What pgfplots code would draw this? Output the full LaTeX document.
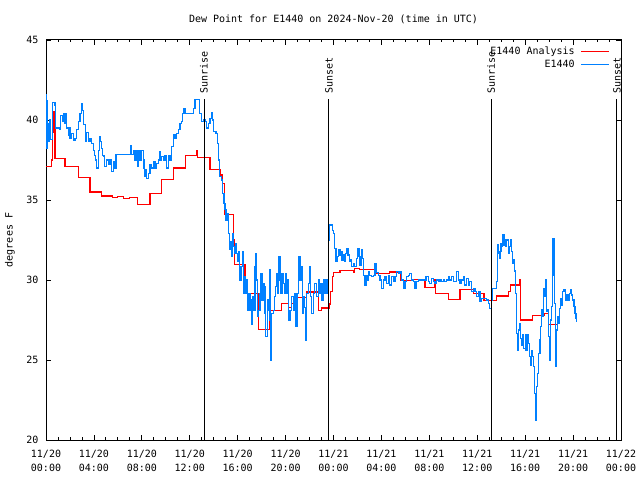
\documentclass[border=0pt]{standalone}
\usepackage{fontspec}
\setmainfont{DejaVu Sans Mono}
\usepackage{pgfplots}
\pgfplotsset{compat=1.18}
\definecolor{obsblue}{RGB}{0,128,255}
\definecolor{anared}{RGB}{255,0,0}
\newcommand{\gfont}{\fontsize{10bp}{14bp}\selectfont}
\begin{document}
\gfont
\begin{tikzpicture}
\fill[white] (0,0) rectangle (640bp,480bp);
\path[use as bounding box] (0,0) rectangle (640bp,480bp);
\begin{axis}[
  at={(46bp,40bp)}, anchor=south west,
  scale only axis, width=575bp, height=400bp,
  xmin=0, xmax=48, ymin=20, ymax=45,
  xtick={0,4,...,48},
  xticklabels={{11/20\\00:00},{11/20\\04:00},{11/20\\08:00},{11/20\\12:00},{11/20\\16:00},{11/20\\20:00},{11/21\\00:00},{11/21\\04:00},{11/21\\08:00},{11/21\\12:00},{11/21\\16:00},{11/21\\20:00},{11/22\\00:00}},
  minor x tick num=3,
  ytick={20,25,...,45},
  major tick length=5bp, minor tick length=2.5bp,
  tick style={black, line width=0.8bp},
  axis line style={line width=1bp},
  xticklabel style={align=center, font=\gfont, yshift=-7bp},
  yticklabel style={font=\gfont, xshift=-4bp},
  /pgf/number format/assume math mode=true,
  title={Dew Point for E1440 on 2024-Nov-20 (time in UTC)},
  title style={at={(0.5,1)}, anchor=center, yshift=15bp, font=\gfont},
  ylabel={degrees F},
  ylabel style={at={(axis description cs:0,0.5)}, anchor=center, yshift=36bp, font=\gfont},
  legend plot pos=right,
  legend cell align=right,
  legend image code/.code={\draw[#1] (0bp,0bp) -- (28bp,0bp);},
  legend style={draw=none, fill=none, at={(1,1)}, anchor=north east, xshift=-11bp, yshift=-5bp, font=\gfont, row sep=0bp, inner sep=0pt,
    /tikz/every odd column/.append style={column sep=4bp}},
]
\addplot[const plot, draw=anared, color=anared, line width=1.1bp] coordinates {
(0,37.1)(0.47,37.5)(0.53,39.2)(0.61,40.5)(0.75,37.6)(1.59,37.1)(2.70,36.4)(3.67,35.5)(4.65,35.25)(5.56,35.15)(6.0,35.2)(6.5,35.12)(7.0,35.17)(7.62,34.7)(8.68,35.4)(9.65,36.3)(10.63,37.0)(11.66,37.8)(12.58,38.06)(12.65,37.67)(13.69,36.92)(14.58,36.56)(14.70,36.04)(14.90,34.1)(15.64,32.5)(15.72,30.95)(16.61,29.17)(17.72,26.9)(18.70,28.1)(19.67,28.55)(20.28,28.3)(20.5,28.55)(20.64,28.9)(21.76,29.25)(22.73,28.1)(23.0,28.25)(23.65,28.5)(23.75,29.3)(23.9,30.2)(23.98,30.46)(24.54,30.58)(25.65,30.46)(25.79,30.73)(26.2,30.67)(27.46,30.4)(28.71,30.5)(29.63,29.96)(30.66,30.04)(31.64,29.54)(32.40,30.0)(32.50,29.17)(33.58,28.8)(34.56,29.4)(35.67,29.17)(36.56,28.7)(37.62,29.0)(38.59,29.3)(38.75,29.69)(39.51,30.0)(39.62,27.5)(40.62,27.77)(41.60,27.9)(41.93,27.23)(42.63,27.23)};
\addlegendentry{E1440 Analysis}
\addplot[const plot, draw=obsblue, color=obsblue, line width=1.1bp] coordinates {
(0,41.6)(0.05,38.2)(0.09,41.2)(0.13,39.8)(0.19,38.65)(0.30,40.0)(0.40,38.8)(0.53,41.08)(0.75,40.9)(0.83,39.5)(1.11,39.4)(1.22,40.3)(1.34,39.9)(1.45,40.4)(1.59,39.8)(1.67,40.4)(1.73,39.5)(1.86,39.06)(1.95,39.5)(2.00,38.85)(2.14,39.17)(2.28,38.75)(2.42,38.85)(2.56,39.4)(2.70,39.9)(2.84,40.4)(2.98,41.04)(3.06,40.6)(3.14,39.7)(3.26,38.65)(3.39,39.2)(3.53,38.65)(3.67,38.85)(3.81,38.54)(3.95,38.1)(4.03,37.8)(4.12,37.5)(4.23,37.0)(4.37,38.1)(4.45,38.96)(4.56,38.65)(4.65,38.2)(4.73,37.8)(4.84,37.7)(4.92,37.08)(5.06,37.5)(5.20,37.2)(5.34,37.5)(5.48,36.77)(5.62,37.4)(5.76,37.0)(5.84,37.87)(7.07,38.38)(7.15,37.87)(7.29,38.08)(7.43,37.5)(7.57,38.08)(7.65,37.08)(7.74,38.08)(7.85,37.5)(7.99,38.08)(8.12,37.5)(8.18,37.0)(8.26,36.46)(8.35,36.9)(8.40,36.35)(8.54,36.67)(8.68,37.2)(8.82,37.0)(8.96,37.4)(9.10,37.0)(9.24,37.3)(9.38,37.5)(9.46,38.0)(9.57,37.5)(9.66,37.7)(9.79,37.5)(9.93,37.8)(10.07,37.0)(10.21,37.8)(10.35,37.5)(10.49,38.33)(10.63,39.06)(10.77,38.85)(10.91,39.17)(11.05,39.4)(11.19,39.8)(11.32,39.9)(11.41,40.4)(11.52,40.7)(11.60,40.4)
(12.30,40.7)(12.44,41.3)(12.85,40.4)(12.99,39.9)(13.13,40.0)(13.27,39.9)(13.41,39.5)(13.55,39.8)(13.69,40.1)(13.83,40.46)(13.91,40.0)(14.02,39.27)(14.19,39.17)(14.30,38.54)(14.39,37.5)(14.47,36.67)(14.52,36.46)(14.66,36.25)(14.75,35.42)(14.86,34.8)(14.94,34.4)(15.03,33.75)(15.14,34.17)(15.22,32.9)(15.30,32.3)(15.36,31.9)(15.44,32.4)(15.50,31.46)(15.58,32.9)(15.64,32.08)(15.78,31.67)(15.86,32.3)(15.92,31.67)(16.00,31.15)(16.11,31.77)(16.19,30.0)(16.28,30.83)(16.39,31.77)(16.47,29.17)(16.56,30.2)(16.64,29.17)(16.75,30.0)(16.83,28.1)(16.94,29.17)(17.03,28.1)(17.11,28.75)(17.17,27.2)(17.25,28.96)(17.36,28.1)(17.45,30.83)(17.53,31.67)(17.58,30.0)(17.67,27.7)(17.75,28.1)(17.86,29.17)(17.95,30.4)(18.03,28.75)(18.14,29.8)(18.22,27.9)(18.31,29.6)(18.36,26.46)(18.47,28.75)(18.56,28.1)(18.64,30.625)(18.70,27.5)(18.78,25.0)(18.86,27.9)(18.98,28.1)(19.06,28.96)(19.14,29.6)(19.25,30.4)(19.34,29.17)(19.42,31.46)(19.53,30.0)(19.62,29.17)(19.70,30.4)(19.81,29.8)(19.92,29.17)(20.01,30.4)(20.09,29.17)(20.17,30.0)(20.28,27.5)(20.37,28.1)(20.51,28.96)(20.65,28.1)(20.76,29.17)(20.87,27.08)(20.98,29.17)(21.09,31.46)(21.20,30.0)(21.29,30.83)(21.40,27.9)(21.48,28.96)(21.56,28.3)(21.67,26.25)(21.76,29.17)(21.90,29.8)(21.98,30.83)(22.09,28.96)(22.20,27.9)(22.31,29.17)(22.45,29.8)(22.59,28.96)(22.73,30.0)(22.82,29.17)(22.93,29.8)(23.04,28.75)(23.15,30.0)(23.29,29.17)(23.43,30.0)(23.54,29.17)(23.59,32.5)
(23.65,33.44)(23.93,33.1)(23.98,32.9)(24.12,31.98)(24.21,31.15)(24.32,31.46)(24.43,31.875)(24.54,31.56)(24.62,31.77)(24.71,31.25)(24.82,31.56)(24.90,31.15)(24.98,31.67)(25.10,31.98)(25.21,31.56)(25.32,31.15)(25.43,31.25)(25.51,30.83)(25.65,31.04)(25.79,30.83)(25.93,31.35)(26.01,31.98)(26.13,31.46)(26.21,30.94)(26.35,31.875)(26.43,31.35)(26.54,30.3)(26.63,29.69)(26.71,30.3)(26.82,30.0)(26.93,30.52)(27.04,30.3)(27.18,30.2)(27.32,30.3)(27.46,31.04)(27.60,30.46)(27.74,30.3)(27.88,30.0)(28.02,29.48)(28.16,30.0)(28.30,30.2)(28.43,29.8)(28.57,30.3)(28.71,29.69)(28.85,30.2)(28.99,29.9)(29.13,30.2)(29.27,30.52)(29.41,30.42)(29.55,30.52)(29.69,30.0)(29.83,29.48)(29.97,29.9)(30.10,30.2)(30.24,30.3)(30.38,30.42)(30.52,30.0)(30.66,29.9)(30.80,29.48)(30.94,29.9)(31.08,30.0)(31.72,30.2)(31.91,29.9)(32.05,29.8)(32.19,30.1)(32.33,29.9)(32.47,29.8)(32.61,30.0)(32.75,29.9)(32.89,30.0)(33.03,29.9)(33.17,30.0)(33.30,29.9)(33.44,30.0)(33.58,30.2)(33.72,30.0)(33.86,30.2)(34.00,29.9)(34.28,30.52)(34.42,30.0)(34.56,29.8)(34.70,30.0)(34.83,30.2)(34.97,29.69)(35.11,30.1)(35.25,29.69)(35.39,29.9)(35.53,29.27)(35.67,29.48)(35.81,29.27)(35.95,28.96)(36.09,29.27)
(36.23,28.65)(36.37,28.85)(36.79,28.75)(36.93,28.54)(37.01,28.23)(37.20,28.75)(37.29,29.48)(37.62,29.9)(37.68,32.19)(37.76,31.67)(37.84,31.35)(37.90,31.77)(37.98,32.29)(38.04,32.08)(38.12,32.81)(38.23,32.19)(38.32,32.5)(38.40,32.08)(38.46,32.5)(38.60,31.67)(38.68,32.08)(38.76,32.5)(38.87,31.77)(38.96,31.04)(39.04,31.25)(39.10,30.6)(39.15,30.52)(39.23,29.17)(39.29,26.67)(39.37,25.6)(39.46,26.875)(39.57,27.3)(39.62,26.35)(39.71,25.94)(39.79,26.56)(39.87,25.73)(39.99,26.56)(40.07,25.6)(40.18,26.56)(40.26,26.04)(40.35,25.2)(40.46,24.69)(40.54,25.6)(40.63,25.2)(40.68,24.58)(40.77,22.9)(40.85,21.25)(40.96,23.33)(41.04,24.17)(41.13,25.4)(41.24,26.25)(41.29,27.08)(41.38,28.125)(41.46,27.71)(41.54,29.48)(41.63,28.96)(41.71,30.0)(41.79,28.02)(41.88,28.125)(41.96,26.46)(42.05,25.0)(42.13,27.5)(42.18,28.33)(42.27,30.3)(42.32,32.6)(42.41,31.15)(42.46,28.54)(42.52,24.58)(42.60,26.875)(42.68,27.71)(42.77,27.3)(42.85,28.23)(42.96,28.85)(43.05,28.44)(43.13,29.27)(43.24,29.375)(43.33,29.06)(43.41,28.75)(43.52,29.06)(43.60,28.75)(43.69,29.17)(43.80,29.375)(43.88,29.06)(43.96,28.75)(44.08,28.33)(44.16,27.9)(44.24,27.6)(44.30,27.4)};
\addlegendentry{E1440}
\addplot[black, line width=1bp, forget plot] coordinates {(13.19,20)(13.19,41.3)};
\addplot[black, line width=1bp, forget plot] coordinates {(23.62,20)(23.62,41.3)};
\addplot[black, line width=1bp, forget plot] coordinates {(37.15,20)(37.15,41.3)};
\addplot[black, line width=1bp, forget plot] coordinates {(47.66,20)(47.66,41.3)};
\node[rotate=90, anchor=west, inner sep=0pt, font=\gfont] at (axis cs:13.19,41.65) {Sunrise};
\node[rotate=90, anchor=west, inner sep=0pt, font=\gfont] at (axis cs:23.62,41.65) {Sunset};
\node[rotate=90, anchor=west, inner sep=0pt, font=\gfont] at (axis cs:37.15,41.65) {Sunrise};
\node[rotate=90, anchor=west, inner sep=0pt, font=\gfont] at (axis cs:47.66,41.65) {Sunset};
\end{axis}
\end{tikzpicture}
\end{document}
